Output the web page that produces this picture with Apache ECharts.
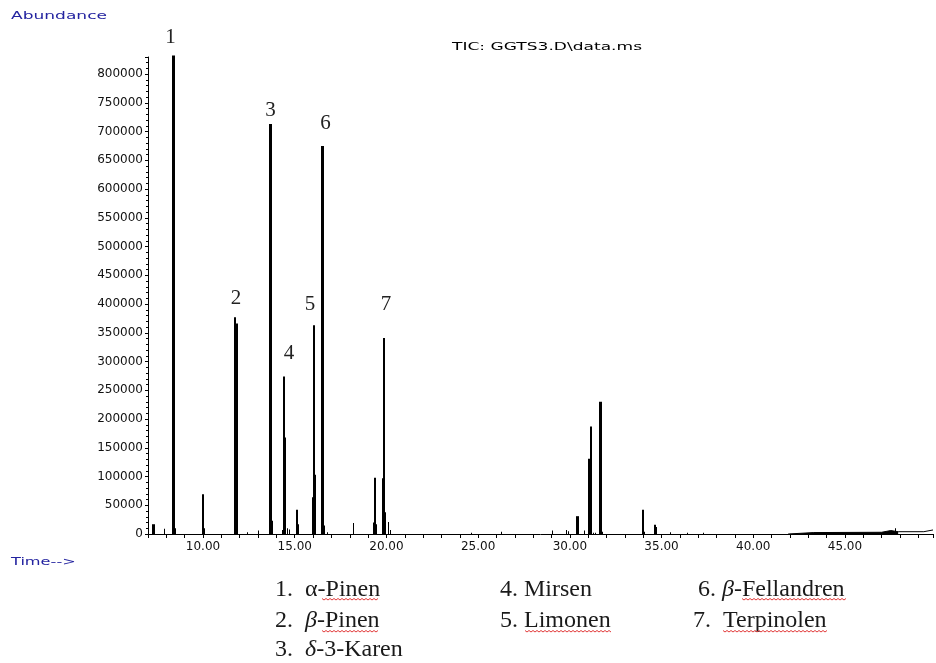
<!DOCTYPE html>
<html><head><meta charset="utf-8">
<script src="https://cdn.jsdelivr.net/npm/echarts@6/dist/echarts.min.js"></script>
<style>html,body{margin:0;padding:0;background:#fff}#c{width:936px;height:663px}</style>
</head><body><div id="c"></div>
<script>
// Retention time (min), abundance
const thickPeaks = [[7.30,17000],[8.38,832000],[13.68,713000],[16.49,675000],[30.42,31000],[31.69,230000]];
const mediumPeaks = [[10.02,69000],[11.77,377000],[11.86,366000],[14.40,274000],[14.48,168000],[15.15,42000],[15.97,64000],[16.04,363000],[16.08,103000],[19.35,98000],[19.79,97000],[19.88,341000],[31.06,131000],[31.15,187000],[33.97,42000],[34.65,16000],[34.72,12000]];
const minorPeaks = [[7.92,9000],[8.50,10000],[9.97,21000],[10.10,10000],[12.40,3000],[13.00,6000],[13.80,23000],[14.36,7000],[14.62,10000],[14.72,8000],[15.22,17000],[16.62,15000],[16.80,3000],[18.20,19000],[19.30,20000],[19.44,17000],[19.97,38000],[20.11,21000],[20.20,7000],[24.65,2000],[26.26,4000],[29.07,6000],[29.84,7000],[29.90,5000],[30.79,6000],[31.30,2000],[31.40,2000],[31.80,4000],[34.05,4000],[35.50,3000],[36.40,2000],[37.30,2000],[47.75,10000]];
const baselineBand = [[41.9,0],[42.0,1500],[43.3,2500],[47.0,3000],[47.1,5000],[47.5,6000],[47.9,4000]];
const baselineDrift = [[47.9,4000],[49.3,4000],[49.31,7000],[49.8,7000]];
const peakIds = ['1','2','3','4','5','6','7'];
const peakTimes = [8.38,11.77,13.68,14.40,16.04,16.49,19.88];
const compoundNames = ['α-Pinen','β-Pinen','δ-3-Karen','Mirsen','Limonen','β-Fellandren','Terpinolen'];
const xTickLabels = ['10.00','15.00','20.00','25.00','30.00','35.00','40.00','45.00'];
const yTickLabels = ['0','50000','100000','150000','200000','250000','300000','350000','400000','450000','500000','550000','600000','650000','700000','750000','800000'];
const titleText = 'TIC: GGTS3.D\\data.ms';
const yAxisTitle = 'Abundance';
const xAxisTitle = 'Time-->';

// styling (not data)
const labelOffsets = [[-3,-8],[1,-8],[0,-3],[5,-12],[-4,-10],[3,-12],[2,-23]];
const legendPrefix = ['1.  ','2.  ','3.  ','4. ','5. ','6. ','7.  '];
const legendPos = [[275,590],[275,621],[275,650],[500,590],[500,621],[698,590],[693,621]];
const squiggles = [[322,378,599],[322,378,631],[525,612,631],[742,846,599],[723,828,631]];

const chart = echarts.init(document.getElementById('c'), null, {renderer:'canvas'});

function stickSeries(name, data, w){
  return {
    type:'custom', name:name, data:data, clip:false, z:3,
    renderItem:function(params, api){
      const t = api.value(0), v = api.value(1);
      const top = api.coord([t, v]), base = api.coord([t, 0]);
      const el = {type:'rect', shape:{x:Math.round(top[0]-w/2), y:top[1], width:w, height:Math.max(base[1]-top[1],0.6)}, style:{fill:'#000'}};
      const k = peakTimes.indexOf(t);
      if (k >= 0) {
        el.textContent = {style:{text:peakIds[k], font:'21px "Liberation Serif", "Times New Roman", serif', fill:'#222'}};
        el.textConfig = {position:'top', distance:0, offset:labelOffsets[k]};
      }
      return el;
    }
  };
}

const graphics = [];
graphics.push({type:'text', x:11, y:16, scaleX:1.55, style:{text:yAxisTitle, font:'11px "DejaVu Sans"', fill:'#2424a0', textVerticalAlign:'middle', verticalAlign:'middle'}});
graphics.push({type:'text', x:11, y:562, scaleX:1.47, style:{text:xAxisTitle, font:'11px "DejaVu Sans"', fill:'#2424a0', textVerticalAlign:'middle', verticalAlign:'middle'}});
graphics.push({type:'text', x:452, y:47, scaleX:1.55, style:{text:titleText, font:'11px "DejaVu Sans"', fill:'#000', textVerticalAlign:'middle', verticalAlign:'middle'}});

compoundNames.forEach(function(nm, i){
  const first = nm.charAt(0);
  const italicFirst = (first === 'β' || first === 'δ');
  const text = italicFirst ? '{n|' + legendPrefix[i] + '}{g|' + first + '}{n|' + nm.slice(1) + '}' : '{n|' + legendPrefix[i] + nm + '}';
  graphics.push({type:'text', x:legendPos[i][0], y:legendPos[i][1], style:{
    text:text, textVerticalAlign:'middle', verticalAlign:'middle',
    rich:{n:{fontFamily:'"Liberation Serif", "Times New Roman", serif', fontSize:24, fill:'#1a1a1a', color:'#1a1a1a'},
          g:{fontFamily:'"Liberation Serif", "Times New Roman", serif', fontSize:24, fontStyle:'italic', fill:'#1a1a1a', color:'#1a1a1a'}}
  }});
});
squiggles.forEach(function(s){
  const pts = [];
  for (let x = s[0], j = 0; x <= s[1]; x += 2, j++) pts.push([x, s[2] + (j % 2 ? 1 : -0.5)]);
  graphics.push({type:'polyline', shape:{points:pts}, style:{stroke:'#e23a3a', lineWidth:1, fill:null}});
});

const option = {
  animation:false,
  backgroundColor:'#fff',
  grid:{left:148, right:0, top:57, bottom:129, containLabel:false},
  xAxis:{
    type:'value', min:7, max:49.8, interval:1,
    axisLine:{show:true, lineStyle:{color:'#000', width:1}},
    axisTick:{show:true, length:4, lineStyle:{color:'#000'}},
    splitLine:{show:false},
    axisLabel:{margin:7, fontFamily:'"DejaVu Sans"', fontSize:12, color:'#111', showMinLabel:true, showMaxLabel:true,
      formatter:function(v){ const s = v.toFixed(2); return xTickLabels.indexOf(s) >= 0 ? s : ''; }}
  },
  yAxis:{
    type:'value', min:0, max:829600, interval:50000,
    axisLine:{show:true, lineStyle:{color:'#000', width:1}},
    axisTick:{show:true, length:3, lineStyle:{color:'#000'}},
    minorTick:{show:true, splitNumber:5, length:2, lineStyle:{color:'#000'}},
    splitLine:{show:false},
    axisLabel:{margin:5, fontFamily:'"DejaVu Sans"', fontSize:12, color:'#111', showMaxLabel:true,
      formatter:function(v){ const s = String(Math.round(v)); return yTickLabels.indexOf(s) >= 0 ? s : ''; }}
  },
  graphic:graphics,
  series:[
    {type:'line', name:'baseline band', data:baselineBand, symbol:'none', lineStyle:{color:'#000', width:1}, areaStyle:{color:'#000', opacity:1}, z:2},
    {type:'line', name:'baseline drift', data:baselineDrift, symbol:'none', lineStyle:{color:'#000', width:1}, z:2},
    stickSeries('minor', minorPeaks, 1),
    stickSeries('medium', mediumPeaks, 2),
    stickSeries('thick', thickPeaks, 3)
  ]
};
chart.setOption(option);
</script>
</body></html>
